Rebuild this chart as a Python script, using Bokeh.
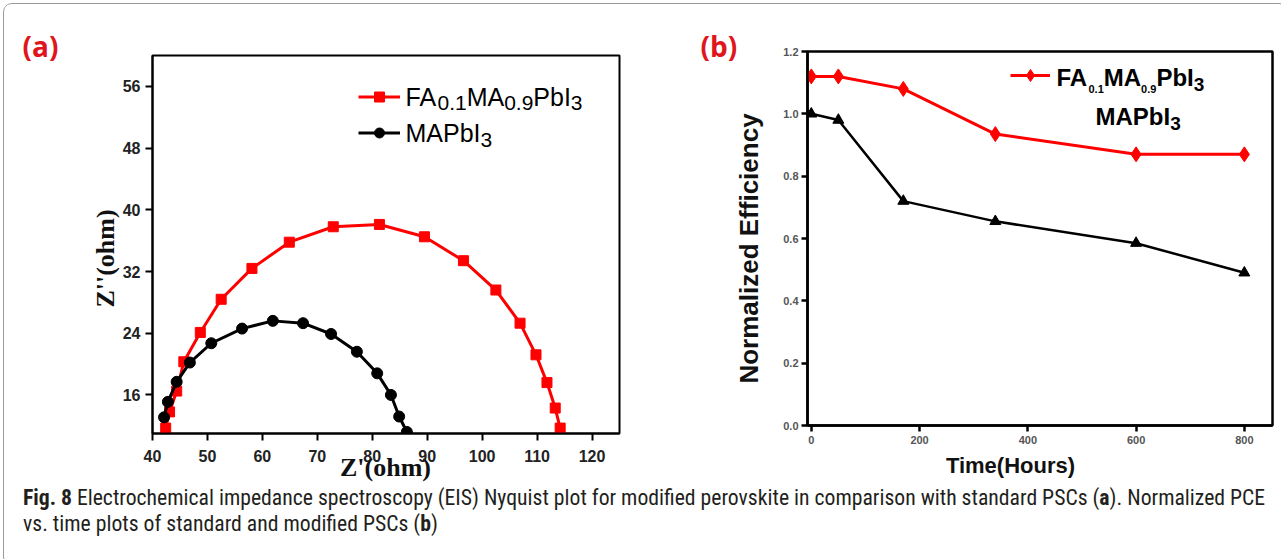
import math
from bokeh.plotting import figure
from bokeh.models import Label, Legend, LegendItem, Div, LinearAxis, FixedTicker
from bokeh.layouts import row, column
from bokeh.embed import file_html
from bokeh.resources import INLINE

# ---------------- data ----------------
# (a) Nyquist plot
z_re_fa = [42.4, 43.1, 44.4, 45.7, 48.7, 52.5, 58.1, 64.9, 72.9, 81.3, 89.5, 96.6,
           102.5, 106.9, 109.8, 111.8, 113.3, 114.2]
z_im_fa = [11.7, 13.8, 16.5, 20.3, 24.1, 28.4, 32.4, 35.8, 37.8, 38.1, 36.5, 33.4,
           29.6, 25.3, 21.2, 17.6, 14.3, 11.7]
z_re_ma = [42.1, 42.8, 44.4, 46.8, 50.7, 56.3, 61.9, 67.4, 72.5, 77.2, 80.9, 83.4, 84.9, 86.3]
z_im_ma = [13.1, 15.1, 17.7, 20.2, 22.7, 24.6, 25.6, 25.3, 23.9, 21.6, 18.8, 16.0, 13.2, 11.2]
a_xticks = [40, 50, 60, 70, 80, 90, 100, 110, 120]
a_yticks = [16, 24, 32, 40, 48, 56]

# (b) stability
time_h = [0, 50, 170, 340, 600, 800]
eff_fa = [1.12, 1.12, 1.08, 0.935, 0.87, 0.87]
eff_ma = [1.0, 0.98, 0.72, 0.655, 0.585, 0.49]
b_xticks = [0, 200, 400, 600, 800]
b_yticks = [0.0, 0.2, 0.4, 0.6, 0.8, 1.0, 1.2]
b_ytick_labels = ["0.0", "0.2", "0.4", "0.6", "0.8", "1.0", "1.2"]

caption_bold = "Fig. 8"
caption_line1 = ("Electrochemical impedance spectroscopy (EIS) Nyquist plot for modified perovskite "
                 "in comparison with standard PSCs (")
caption_line1b = "). Normalized PCE"
caption_line2 = "vs. time plots of standard and modified PSCs ("

RED = "#ff0000"
MARGIN = 3
OFF = MARGIN + 1  # outer margin + border width
WA, WB = 640 - OFF, 641 - OFF
H = 482

# frame positions in window pixels
A_L, A_R, A_T, A_B = 152, 619, 55, 433
B_L, B_R, B_T, B_B = 807, 1272, 51, 425
A_XR, A_YR = (40, 125), (11, 60)
B_XR, B_YR = (-7, 852), (0, 1.2)


def A_x(px):
    return round(A_XR[0] + (px - A_L) * (A_XR[1] - A_XR[0]) / (A_R - A_L), 4)


def A_y(py):
    return round(A_YR[1] - (py - A_T) * (A_YR[1] - A_YR[0]) / (A_B - A_T), 4)


def B_x(px):
    return round(B_XR[0] + (px - B_L) * (B_XR[1] - B_XR[0]) / (B_R - B_L), 4)


def B_y(py):
    return round(B_YR[1] - (py - B_T) * (B_YR[1] - B_YR[0]) / (B_B - B_T), 4)


ARIAL = {'F': 611, 'A': 667, 'M': 833, 'P': 667, 'b': 556, 'I': 278,
         '0': 556, '1': 556, '3': 556, '9': 556, '.': 278}
ARIAL_B = {'F': 611, 'A': 722, 'M': 833, 'P': 667, 'b': 611, 'I': 278,
           '0': 556, '1': 556, '3': 556, '9': 556, '.': 278}


def rich(p, pieces, x0, y0, cx, cy, bold, metrics, color="black"):
    x = x0
    for txt, size, dy in pieces:
        p.add_layout(Label(x=cx(x), y=cy(y0 + dy), text=txt, text_font="Liberation Sans",
                           text_font_style="bold" if bold else "normal",
                           text_font_size=f"{size}px", text_baseline="middle",
                           text_align="left", text_color=color))
        x += sum(metrics[c] for c in txt) * size / 1000.0


def style_axes(p, lab_size, lab_color, lab_style, tick_out, standoffs, lw):
    for ax, so in zip((p.xaxis, p.yaxis), standoffs):
        ax.axis_line_width = lw
        ax.axis_line_color = "black"
        ax.major_tick_line_width = lw
        ax.major_tick_line_color = "black"
        ax.major_tick_out = tick_out
        ax.major_tick_in = 0
        ax.minor_tick_out = 0
        ax.minor_tick_in = 0
        ax.major_label_text_font = "Liberation Sans"
        ax.major_label_text_font_style = lab_style
        ax.major_label_text_font_size = lab_size
        ax.major_label_text_color = lab_color
        ax.major_label_standoff = so
    p.xgrid.visible = False
    p.ygrid.visible = False
    p.outline_line_color = "black"
    p.outline_line_width = lw
    p.outline_line_alpha = 1.0


def title_axis(p, side, pos, text, font, size, standoff, vertical=False):
    ax = LinearAxis(ticker=FixedTicker(ticks=[pos]), major_label_overrides={pos: text},
                    axis_line_alpha=0, major_tick_out=0, major_tick_in=0,
                    minor_tick_out=0, minor_tick_in=0,
                    major_label_text_font=font, major_label_text_font_style="bold",
                    major_label_text_font_size=size, major_label_text_color="#111111",
                    major_label_standoff=standoff)
    if vertical:
        ax.major_label_orientation = "vertical"
    p.add_layout(ax, side)


def panel_title(p, text, offset, standoff):
    p.title.text = text
    p.title.align = "left"
    p.title.offset = offset
    p.title.standoff = standoff
    p.title.vertical_align = "bottom"
    p.title.text_font = "Open Sans"
    p.title.text_font_style = "bold"
    p.title.text_font_size = "28px"
    p.title.text_color = "#e0161d"


# ---------------- panel (a) ----------------
pa = figure(width=WA, height=H, x_range=A_XR, y_range=A_YR, output_backend="svg",
            toolbar_location=None,
            min_border_left=A_L - OFF, min_border_right=WA - (A_R - OFF),
            min_border_top=A_T - OFF, min_border_bottom=H - (A_B - OFF))
pa.border_fill_color = "white"
pa.xaxis.ticker = a_xticks
pa.yaxis.ticker = a_yticks
style_axes(pa, "16px", "#222222", "bold", 7, (9, 5), 2)

la1 = pa.line(z_re_fa, z_im_fa, line_color=RED, line_width=3)
sa1 = pa.scatter(z_re_fa, z_im_fa, marker="square", size=10, fill_color=RED, line_color=RED)
la2 = pa.line(z_re_ma, z_im_ma, line_color="black", line_width=3)
sa2 = pa.scatter(z_re_ma, z_im_ma, marker="circle", size=11, fill_color="black", line_color="black")

leg_a = Legend(items=[LegendItem(label=" ", renderers=[la1, sa1]),
                      LegendItem(label=" ", renderers=[la2, sa2])],
               location=(358 - A_L, A_B - 145), glyph_width=42, glyph_height=25,
               label_width=0, label_height=25, label_standoff=0, padding=0, margin=0,
               spacing=11, border_line_alpha=0, background_fill_alpha=0,
               label_text_font_size="1px")
pa.add_layout(leg_a)

rich(pa, [("FA", 25, 0), ("0.1", 21, 6), ("MA", 25, 0), ("0.9", 21, 6), ("PbI", 25, 0), ("3", 21, 6)],
     405, 97, A_x, A_y, False, ARIAL)
rich(pa, [("MAPbI", 25, 0), ("3", 21, 6)], 405, 133, A_x, A_y, False, ARIAL)

title_axis(pa, "below", A_x(385), "Z'(ohm)", "Liberation Serif", "26px", -12)
title_axis(pa, "left", A_y(258), "Z''(ohm)", "Liberation Serif", "26px", -1, vertical=True)
panel_title(pa, "(a)", 22 - A_L, -18)

# ---------------- panel (b) ----------------
BX0 = 640  # window x where panel b starts
pb = figure(width=WB, height=H, x_range=B_XR, y_range=B_YR, output_backend="svg",
            toolbar_location=None,
            min_border_left=B_L - BX0, min_border_right=1281 - OFF - B_R,
            min_border_top=B_T - OFF, min_border_bottom=H - (B_B - OFF))
pb.border_fill_color = "white"
pb.xaxis.ticker = b_xticks
pb.yaxis.ticker = b_yticks
pb.yaxis.major_label_overrides = {v: s for v, s in zip(b_yticks, b_ytick_labels)}
style_axes(pb, "11px", "#555555", "bold", 6, (4, 3), 2.5)

lb1 = pb.line(time_h, eff_fa, line_color=RED, line_width=3)
sb1 = pb.scatter(time_h, eff_fa, marker="diamond", size=15, fill_color=RED, line_color=RED)
lb2 = pb.line(time_h, eff_ma, line_color="black", line_width=2.5)
sb2 = pb.scatter(time_h, eff_ma, marker="triangle", size=11, fill_color="black", line_color="black")

leg_b = Legend(items=[LegendItem(label=" ", renderers=[lb1, sb1])],
               location=(1010 - B_L, B_B - 90), glyph_width=40, glyph_height=30,
               label_width=0, label_height=30, label_standoff=0, padding=0, margin=0,
               spacing=0, border_line_alpha=0, background_fill_alpha=0,
               label_text_font_size="1px")
pb.add_layout(leg_b)

rich(pb, [("FA", 24, 0), ("0.1", 11, 12), ("MA", 24, 0), ("0.9", 11, 12), ("PbI", 24, 0), ("3", 19, 7)],
     1056, 77, B_x, B_y, True, ARIAL_B)
rich(pb, [("MAPbI", 24, 0), ("3", 19, 7)], 1095, 116, B_x, B_y, True, ARIAL_B)

title_axis(pb, "below", B_x(1010), "Time(Hours)", "Liberation Sans", "22px", 6)
title_axis(pb, "left", B_y(248), "Normalized Efficiency", "Liberation Sans", "26px", 16, vertical=True)
panel_title(pb, "(b)", 700 - B_L, -26)

# ---------------- caption ----------------
font_css = "'Liberation Sans Narrow', 'Roboto Condensed', 'DejaVu Sans Condensed', 'Liberation Sans', sans-serif"
html = (
    f'<div style="width:1247px; margin-top:-6px; padding:0 10px 0 {18 - OFF}px; font-family:{font_css}; '
    f'font-size:21.7px; line-height:26px; color:#231f20;">'
    f'<div style="white-space:nowrap;">'
    f'<b>{caption_bold}</b> {caption_line1}<b>a</b>{caption_line1b}</div>'
    f'<div>{caption_line2}<b>b</b>)</div></div>'
)
cap = Div(text=html, width=WA + WB, height=559 - 2 * OFF - H)

layout = column(row(column(pa), column(pb)), cap,
                styles={"border": "1px solid #9a9a9a", "border-radius": "9px",
                        "margin": f"{MARGIN}px", "overflow": "hidden", "background": "white"})

open("out.html", "w").write(file_html(layout, INLINE))
